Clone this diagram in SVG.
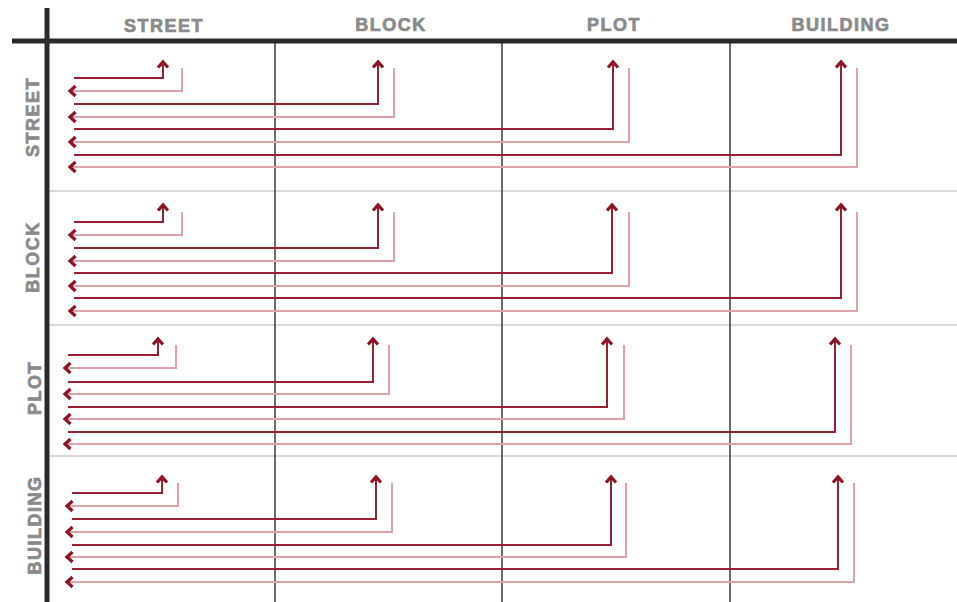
<svg xmlns="http://www.w3.org/2000/svg" width="957" height="602" viewBox="0 0 957 602">
<style>
.lbl{font-family:"Liberation Sans",Arial,sans-serif;font-weight:bold;font-size:18px;fill:#8a8a8a;stroke:#8a8a8a;stroke-width:0.7px;letter-spacing:1.5px;text-anchor:middle}
.thick{stroke:#2a2a2a;stroke-width:5;fill:none}
.col{stroke:#3a3a3a;stroke-width:1.5;fill:none}
.row{stroke:#b4b4b4;stroke-width:1.2;fill:none}
.dk{stroke:#9a1f30;stroke-width:2;fill:none;marker-end:url(#up)}
.lt{stroke:#e0a2aa;stroke-width:2;fill:none;marker-end:url(#lf)}
</style>
<defs>
<marker id="up" markerUnits="userSpaceOnUse" viewBox="-10 -7 14 14" refX="0" refY="0" markerWidth="14" markerHeight="14" orient="auto" overflow="visible">
<path d="M-5.5,-5 L0,0 L-5.5,5" fill="none" stroke="#8c1426" stroke-width="3.2"/>
</marker>
<marker id="lf" markerUnits="userSpaceOnUse" viewBox="-10 -7 14 14" refX="0" refY="0" markerWidth="14" markerHeight="14" orient="auto" overflow="visible">
<path d="M-5.5,-5 L0,0 L-5.5,5" fill="none" stroke="#8c1426" stroke-width="3.2"/>
</marker>
</defs>
<rect width="957" height="602" fill="#ffffff"/>
<g id="grid">
<line class="row" x1="47" y1="191" x2="957" y2="191"/>
<line class="row" x1="47" y1="325" x2="957" y2="325"/>
<line class="row" x1="47" y1="456" x2="957" y2="456"/>
<line class="col" x1="275" y1="41" x2="275" y2="602"/>
<line class="col" x1="502" y1="41" x2="502" y2="602"/>
<line class="col" x1="730" y1="41" x2="730" y2="602"/>
<line class="thick" x1="12" y1="41" x2="957" y2="41"/>
<line class="thick" x1="47" y1="8" x2="47" y2="602"/>
</g>
<g id="col-street"><text class="lbl" x="164" y="32">STREET</text></g>
<g id="col-block"><text class="lbl" x="391" y="31">BLOCK</text></g>
<g id="col-plot"><text class="lbl" x="614" y="31">PLOT</text></g>
<g id="col-building"><text class="lbl" x="841" y="31">BUILDING</text></g>
<g id="row-street"><text class="lbl" transform="translate(39,117) rotate(-90)">STREET</text></g>
<g id="row-block"><text class="lbl" transform="translate(39,257) rotate(-90)">BLOCK</text></g>
<g id="row-plot"><text class="lbl" transform="translate(41,388) rotate(-90)">PLOT</text></g>
<g id="row-building"><text class="lbl" transform="translate(41,525) rotate(-90)">BUILDING</text></g>
<g id="connectors">
<path class="lt" d="M182,68 V91 H70"/>
<path class="lt" d="M394,68 V117 H70"/>
<path class="lt" d="M629,68 V142 H70"/>
<path class="lt" d="M857,68 V167 H70"/>
<path class="dk" d="M74,78 H163 V62"/>
<path class="dk" d="M74,104 H378 V62"/>
<path class="dk" d="M74,129 H613 V62"/>
<path class="dk" d="M74,155 H841 V62"/>
<path class="lt" d="M182,212 V235 H70"/>
<path class="lt" d="M394,212 V261 H70"/>
<path class="lt" d="M629,212 V286 H70"/>
<path class="lt" d="M857,212 V311 H70"/>
<path class="dk" d="M74,222 H163 V205"/>
<path class="dk" d="M74,248 H378 V205"/>
<path class="dk" d="M74,273 H612 V205"/>
<path class="dk" d="M74,298 H841 V205"/>
<path class="lt" d="M176,345 V368 H65"/>
<path class="lt" d="M389,345 V394 H65"/>
<path class="lt" d="M624,345 V419 H65"/>
<path class="lt" d="M851,345 V444 H65"/>
<path class="dk" d="M68,355 H158 V339"/>
<path class="dk" d="M68,382 H373 V339"/>
<path class="dk" d="M68,407 H607 V339"/>
<path class="dk" d="M68,432 H835 V339"/>
<path class="lt" d="M178,483 V506 H67"/>
<path class="lt" d="M392,483 V532 H67"/>
<path class="lt" d="M626,483 V557 H67"/>
<path class="lt" d="M854,483 V582 H67"/>
<path class="dk" d="M72,493 H162 V477"/>
<path class="dk" d="M72,519 H376 V477"/>
<path class="dk" d="M72,545 H611 V477"/>
<path class="dk" d="M72,569 H838 V477"/>
</g>
</svg>
